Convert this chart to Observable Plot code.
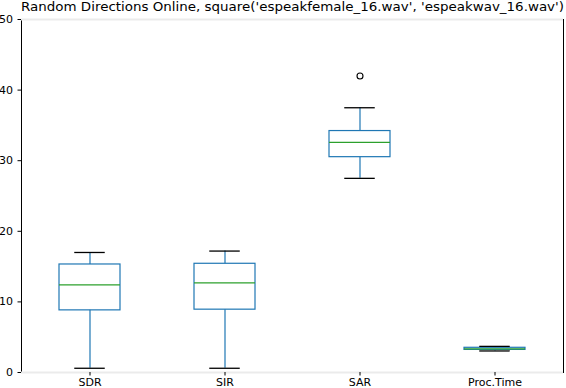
<!DOCTYPE html>
<html>
<head>
<meta charset="utf-8">
<script src="https://cdn.jsdelivr.net/npm/d3@7"></script>
<script src="https://cdn.jsdelivr.net/npm/@observablehq/plot@0.6"></script>
<style>
  html, body { margin: 0; padding: 0; background: #fff; }
  svg { font-family: "DejaVu Sans", sans-serif; display: block; }
</style>
</head>
<body>
<div id="chart"></div>
<script>
const title = "Random Directions Online, square('espeakfemale_16.wav', 'espeakwav_16.wav')";
const categories = ["SDR", "SIR", "SAR", "Proc.Time"];
const whiskerLow = [0.6, 0.6, 27.5, 3.05];
const q1 = [8.8, 8.9, 30.5, 3.2];
const median = [12.4, 12.7, 32.6, 3.35];
const q3 = [15.3, 15.4, 34.2, 3.5];
const whiskerHigh = [17.0, 17.2, 37.5, 3.7];
const outlierCats = ["SAR"];
const outlierValues = [42.0];
const yTicks = [0, 10, 20, 30, 40, 50];

const boxes = categories.map((c, i) => ({
  cat: c, lo: whiskerLow[i], q1: q1[i], med: median[i], q3: q3[i], hi: whiskerHigh[i]
}));
const outliers = outlierCats.map((c, i) => ({cat: c, value: outlierValues[i]}));

const blue = "#1f77b4", green = "#2ca02c";

const chart = Plot.plot({
  width: 566,
  height: 388,
  marginTop: 19,
  marginBottom: 16,
  marginLeft: 21,
  marginRight: 3,
  style: {fontFamily: "DejaVu Sans, sans-serif", color: "#000", background: "#fff"},
  x: {domain: categories, paddingInner: 0.55, paddingOuter: 0.275},
  y: {domain: [0, 50]},
  marks: [
    Plot.frame({stroke: "#000", strokeWidth: 1}),
    Plot.ruleY([0, 50], {stroke: "#ebebeb", strokeWidth: 2}),
    Plot.axisY({ticks: yTicks, tickSize: 3.5, tickPadding: 5, fontSize: 11, label: null}),
    Plot.axisX({tickSize: 3.5, tickPadding: 2, fontSize: 11, label: null}),
    Plot.ruleX(boxes, {x: "cat", y1: "lo", y2: "q1", stroke: blue, strokeWidth: 1.2}),
    Plot.ruleX(boxes, {x: "cat", y1: "q3", y2: "hi", stroke: blue, strokeWidth: 1.2}),
    Plot.barY(boxes, {x: "cat", y1: "q1", y2: "q3", fill: "none", stroke: blue, strokeWidth: 1.2}),
    Plot.tickY(boxes, {x: "cat", y: "lo", stroke: "#000", strokeWidth: 1.3, insetLeft: 15.25, insetRight: 15.25}),
    Plot.tickY(boxes, {x: "cat", y: "hi", stroke: "#000", strokeWidth: 1.3, insetLeft: 15.25, insetRight: 15.25}),
    Plot.tickY(boxes, {x: "cat", y: "med", stroke: green, strokeWidth: 1.2}),
    Plot.dot(outliers, {x: "cat", y: "value", r: 3, stroke: "#000", fill: "none", strokeWidth: 1.1}),
    Plot.text([title], {frameAnchor: "top", dy: -9, lineAnchor: "bottom", fontSize: 12.5, fill: "#000"})
  ]
});
for (const t of chart.querySelectorAll("text")) {
  if (t.textContent === title) {
    t.setAttribute("textLength", 543);
    t.setAttribute("lengthAdjust", "spacingAndGlyphs");
  }
}
document.getElementById("chart").appendChild(chart);
</script>
</body>
</html>
